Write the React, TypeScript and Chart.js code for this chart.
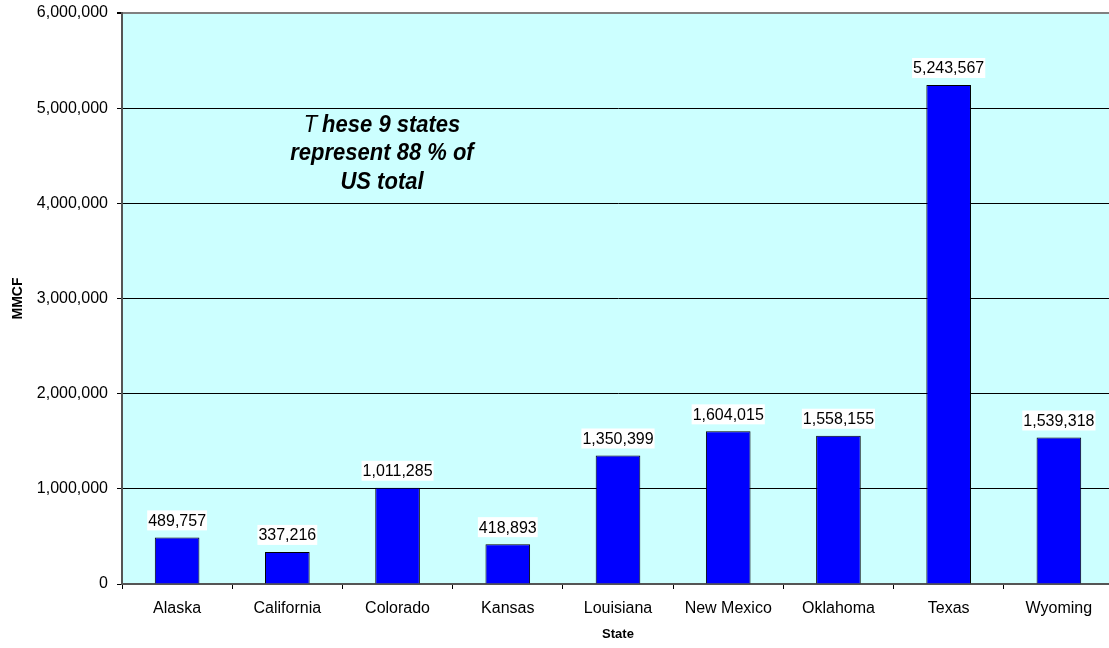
import React, { useEffect, useRef } from "react";
import { Chart, registerables } from "chart.js";

Chart.register(...registerables);

const states = ["Alaska", "California", "Colorado", "Kansas", "Louisiana", "New Mexico", "Oklahoma", "Texas", "Wyoming"];
const production = [489757, 337216, 1011285, 418893, 1350399, 1604015, 1558155, 5243567, 1539318];
const yTicks = [0, 1000000, 2000000, 3000000, 4000000, 5000000, 6000000];
const noteLines = ["These 9 states", "represent 88 % of", "US total"];
const yTitle = "MMCF";
const xTitle = "State";

const FONT = "'Liberation Sans', Arial, Helvetica, sans-serif";
const fmt = (v: number) => v.toLocaleString("en-US");

export default function App() {
  const ref = useRef<HTMLCanvasElement | null>(null);

  useEffect(() => {
    if (!ref.current) return;

    const bgPlugin = {
      id: "bg",
      beforeDraw(chart: any) {
        const { ctx, chartArea: a } = chart;
        ctx.save();
        ctx.fillStyle = "#CCFFFF";
        ctx.fillRect(a.left, a.top, a.right - a.left, a.bottom - a.top);
        ctx.restore();
      },
    };

    const labelPlugin = {
      id: "labels",
      afterDatasetsDraw(chart: any) {
        const { ctx } = chart;
        const meta = chart.getDatasetMeta(0);
        ctx.save();
        ctx.font = `16px ${FONT}`;
        ctx.textAlign = "center";
        ctx.textBaseline = "middle";
        meta.data.forEach((bar: any, i: number) => {
          const txt = fmt(production[i]);
          const w = ctx.measureText(txt).width;
          const cy = bar.y - 17;
          ctx.fillStyle = "#FFFFFF";
          ctx.fillRect(bar.x - w / 2 - 1, cy - 10, w + 2, 20);
          ctx.fillStyle = "#000000";
          ctx.fillText(txt, bar.x, cy + 1);
        });

        // annotation
        const cx = 382;
        const baselines = [132, 160, 189];
        const sy = 1.12;
        ctx.textBaseline = "alphabetic";
        ctx.fillStyle = "#000000";
        const drawLine = (fn: () => void, base: number) => {
          ctx.save();
          ctx.translate(0, base);
          ctx.scale(1, sy);
          fn();
          ctx.restore();
        };
        const first = noteLines[0];
        const tPart = first.charAt(0);
        const rest = first.slice(1);
        ctx.font = `italic 22px ${FONT}`;
        const wT = ctx.measureText(tPart).width;
        ctx.font = `italic bold 22px ${FONT}`;
        const wRest = ctx.measureText(rest).width;
        const gap = 5;
        const total = wT + gap + wRest;
        const x0 = cx - total / 2;
        drawLine(() => {
          ctx.textAlign = "left";
          ctx.font = `italic 22px ${FONT}`;
          ctx.fillText(tPart, x0, 0);
          ctx.font = `italic bold 22px ${FONT}`;
          ctx.fillText(rest, x0 + wT + gap, 0);
        }, baselines[0]);
        for (let i = 1; i < noteLines.length; i++) {
          drawLine(() => {
            ctx.textAlign = "center";
            ctx.font = `italic bold 22px ${FONT}`;
            ctx.fillText(noteLines[i], cx, 0);
          }, baselines[i]);
        }
        ctx.restore();
      },
    };

    const chart = new Chart(ref.current, {
      type: "bar",
      data: {
        labels: states,
        datasets: [
          {
            data: production,
            backgroundColor: "#0000FF",
            borderColor: "#000000",
            borderWidth: 1,
            barPercentage: 0.405,
            categoryPercentage: 1,
          },
        ],
      },
      options: {
        animation: false,
        responsive: false,
        maintainAspectRatio: false,
        devicePixelRatio: 1,
        layout: { padding: { top: 13, left: 0, right: 0, bottom: 0 } },
        plugins: {
          legend: { display: false },
          tooltip: { enabled: false },
        },
        scales: {
          x: {
            grid: {
              display: true,
              drawOnChartArea: false,
              drawTicks: true,
              tickLength: 5,
              color: "#000000",
              offset: true,
            },
            border: { display: true, color: "#555555", width: 2 },
            ticks: {
              color: "#000000",
              font: { family: FONT, size: 16 },
              padding: 10,
              maxRotation: 0,
              autoSkip: false,
            },
            title: {
              display: true,
              text: xTitle,
              color: "#000000",
              font: { family: FONT, size: 13, weight: "bold" },
              padding: { top: 0, bottom: 6 },
            },
            afterFit(scale: any) {
              scale.height = 64;
              scale.paddingLeft = 0;
              scale.paddingRight = 0;
            },
          },
          y: {
            min: 0,
            max: 6000000,
            afterBuildTicks(scale: any) {
              scale.ticks = yTicks.map((v) => ({ value: v }));
            },
            grid: {
              color: (c: any) => (c.tick && c.tick.value === 6000000 ? "#808080" : "#000000"),
              lineWidth: (c: any) => (c.tick && c.tick.value === 6000000 ? 2 : 1),
              tickColor: "#000000",
              tickLength: 5,
              drawTicks: true,
            },
            border: { display: true, color: "#555555", width: 2 },
            ticks: {
              color: "#000000",
              font: { family: FONT, size: 16 },
              padding: 9,
              callback: (v: any) => fmt(Number(v)),
            },
            title: {
              display: true,
              text: yTitle,
              color: "#000000",
              font: { family: FONT, size: 14, weight: "bold" },
              padding: { top: 10, bottom: 0 },
            },
            afterFit(scale: any) {
              scale.width = 122;
              scale.paddingTop = 0;
              scale.paddingBottom = 0;
            },
          },
        },
      },
      plugins: [bgPlugin, labelPlugin],
    } as any);

    return () => chart.destroy();
  }, []);

  return (
    <div style={{ position: "fixed", left: 0, top: 0, width: 1109, height: 648, overflow: "hidden", background: "#FFFFFF" }}>
      <canvas ref={ref} width={1114} height={648} style={{ display: "block" }} />
    </div>
  );
}
